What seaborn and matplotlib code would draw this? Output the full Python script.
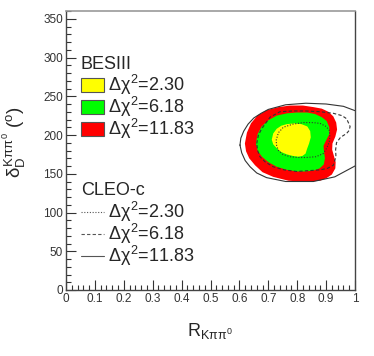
import numpy as np
import matplotlib
matplotlib.use("Agg")
import matplotlib.pyplot as plt
import seaborn as sns
import pandas as pd
from matplotlib.patches import Patch
from matplotlib.lines import Line2D

# BESIII contours (R, delta in degrees)
red_R = [0.619, 0.626, 0.640, 0.662, 0.694, 0.735, 0.775, 0.820, 0.856, 0.885, 0.908, 0.925, 0.935, 0.938,
         0.932, 0.922, 0.921, 0.927, 0.933, 0.932, 0.920, 0.900, 0.879, 0.845, 0.810, 0.770, 0.717, 0.680,
         0.654, 0.634, 0.623]
red_d = [189, 203, 215, 225, 232, 236, 238, 238, 236, 234, 230, 224, 216, 207,
         198, 189, 181, 173, 165, 157, 149, 144, 141, 140, 140, 141, 146, 152,
         161, 170, 179]
green_R = [0.657, 0.663, 0.677, 0.700, 0.729, 0.765, 0.798, 0.835, 0.862, 0.885, 0.902, 0.911, 0.911, 0.900,
           0.891, 0.893, 0.896, 0.892, 0.878, 0.856, 0.828, 0.798, 0.765, 0.729, 0.700, 0.678, 0.663]
green_d = [189, 201, 211, 219, 225, 228, 229, 229, 227, 223, 218, 210, 201, 193,
           186, 178, 170, 162, 157, 154, 153, 153, 155, 159, 165, 172, 180]
yellow_R = [0.712, 0.717, 0.729, 0.745, 0.764, 0.790, 0.815, 0.835, 0.845, 0.847, 0.841, 0.834, 0.829, 0.818,
            0.804, 0.785, 0.764, 0.745, 0.729, 0.717]
yellow_d = [194, 202, 208, 212, 214, 215, 214, 211, 205, 197, 189, 182, 176, 173,
            172, 173, 175, 178, 183, 188]

# CLEO-c contours
cleo_solid_R = [0.602, 0.605, 0.615, 0.630, 0.650, 0.675, 0.700, 0.760, 0.830, 0.900, 0.960, 1.010, 1.050,
                1.060, 1.050, 1.000, 0.930, 0.856, 0.760, 0.694, 0.660, 0.637, 0.620, 0.608]
cleo_solid_d = [187, 196, 205, 214, 222, 228, 233, 239, 241, 240, 237, 230, 215,
                195, 175, 160, 146, 140, 140, 145, 151, 159, 167, 177]
cleo_dash_R = [0.660, 0.666, 0.677, 0.706, 0.740, 0.785, 0.830, 0.880, 0.925, 0.955, 0.971, 0.983, 0.980, 0.971,
               0.950, 0.936, 0.933, 0.934, 0.925, 0.905, 0.879, 0.840, 0.798, 0.755, 0.717, 0.690, 0.671, 0.663]
cleo_dash_d = [189, 200, 208, 223, 230, 231, 231, 230, 228, 225, 221, 211, 206, 202,
               197, 190, 181, 172, 161, 157, 155, 154, 153, 155, 159, 165, 172, 180]
cleo_dot_R = [0.727, 0.735, 0.752, 0.785, 0.821, 0.855, 0.879, 0.900, 0.911, 0.913, 0.911, 0.902, 0.890, 0.865,
              0.833, 0.800, 0.775, 0.750, 0.735, 0.729]
cleo_dot_d = [193, 203, 210, 214, 216, 216, 215, 211, 206, 198, 191, 183, 176, 172,
              171, 171, 172, 175, 180, 186]

chi2_labels = ["2.30", "6.18", "11.83"]
bes_colors = ["#ffff00", "#00ff00", "#ff0000"]

sns.set_style("ticks")
plt.rcParams['font.family'] = ['Liberation Sans', 'DejaVu Sans']
plt.rcParams['mathtext.fontset'] = 'custom'
plt.rcParams['mathtext.rm'] = 'Liberation Sans'
plt.rcParams['mathtext.it'] = 'Liberation Sans'
plt.rcParams['mathtext.bf'] = 'Liberation Sans:bold'


def closed(xs, ys):
    return pd.DataFrame({"R": list(xs) + [xs[0]], "d": list(ys) + [ys[0]]})


fig = plt.figure(figsize=(3.74, 3.56), dpi=100)
ax = fig.add_axes([66 / 374, 1 - 290 / 356, 289 / 374, 279 / 356])

for xs, ys, c in [(red_R, red_d, bes_colors[2]), (green_R, green_d, bes_colors[1]),
                  (yellow_R, yellow_d, bes_colors[0])]:
    df = closed(xs, ys)
    ax.fill(df["R"], df["d"], color=c, lw=0)

for xs, ys, ls in [(cleo_dot_R, cleo_dot_d, (0, (1, 1.5))), (cleo_dash_R, cleo_dash_d, (0, (3, 2))),
                   (cleo_solid_R, cleo_solid_d, "-")]:
    df = closed(xs, ys)
    sns.lineplot(data=df, x="R", y="d", sort=False, estimator=None, ax=ax,
                 color="#333333", lw=0.8, linestyle=ls)

ax.set_xlim(0, 1)
ax.set_ylim(0, 360)
ax.set_xticks(np.arange(0, 1.01, 0.1))
ax.set_xticklabels(["0", "0.1", "0.2", "0.3", "0.4", "0.5", "0.6", "0.7", "0.8", "0.9", "1"])
ax.set_xticks(np.arange(0, 1.001, 0.02), minor=True)
ax.set_yticks(np.arange(0, 351, 50))
ax.set_yticks(np.arange(0, 361, 10), minor=True)
ax.tick_params(which="both", direction="in", labelsize=8.5, colors="#333333", pad=2)
ax.tick_params(which="major", length=7, width=0.8)
ax.tick_params(which="minor", length=3.5, width=0.8)
for s in ["left", "bottom", "right"]:
    ax.spines[s].set_color("#444444")
    ax.spines[s].set_linewidth(1.0)
ax.spines["top"].set_color("#999999")
ax.spines["top"].set_linewidth(1.2)

ax.set_xlabel(r"R$_{K\pi\pi^{0}}$", fontsize=13)
ax.xaxis.set_label_coords(0.5, -0.11)
ax.set_ylabel(r"$\delta_{D}^{K\pi\pi^{0}}$ ($^{o}$)", fontsize=13.5)
ax.yaxis.set_label_coords(-0.13, 0.53)

bes_handles = [Patch(facecolor=c, edgecolor="#555555", lw=0.8) for c in bes_colors]
bes_labels = [r"$\Delta\chi^{2}$=" + v for v in chi2_labels]
leg1 = ax.legend(bes_handles, bes_labels, title="BESIII", loc="upper left",
                 bbox_to_anchor=(0.02, 0.87), frameon=False, fontsize=13,
                 title_fontsize=13, alignment="left", handlelength=1.28,
                 handleheight=0.82, handletextpad=0.2, labelspacing=-0.12, borderpad=0)
leg1._legend_box.sep = 0
ax.add_artist(leg1)

cleo_handles = [Line2D([], [], color="#555555", lw=0.8, linestyle=(0, (1, 1.5))),
                Line2D([], [], color="#555555", lw=0.8, linestyle=(0, (3, 2))),
                Line2D([], [], color="#555555", lw=0.8, linestyle="-")]
leg2 = ax.legend(cleo_handles, bes_labels, title="CLEO-c", loc="upper left",
                 bbox_to_anchor=(0.02, 0.42), frameon=False, fontsize=13,
                 title_fontsize=13, alignment="left", handlelength=1.28,
                 handleheight=0.82, handletextpad=0.2, labelspacing=-0.12, borderpad=0)
leg2._legend_box.sep = 1

plt.savefig("out.png", dpi=100)
